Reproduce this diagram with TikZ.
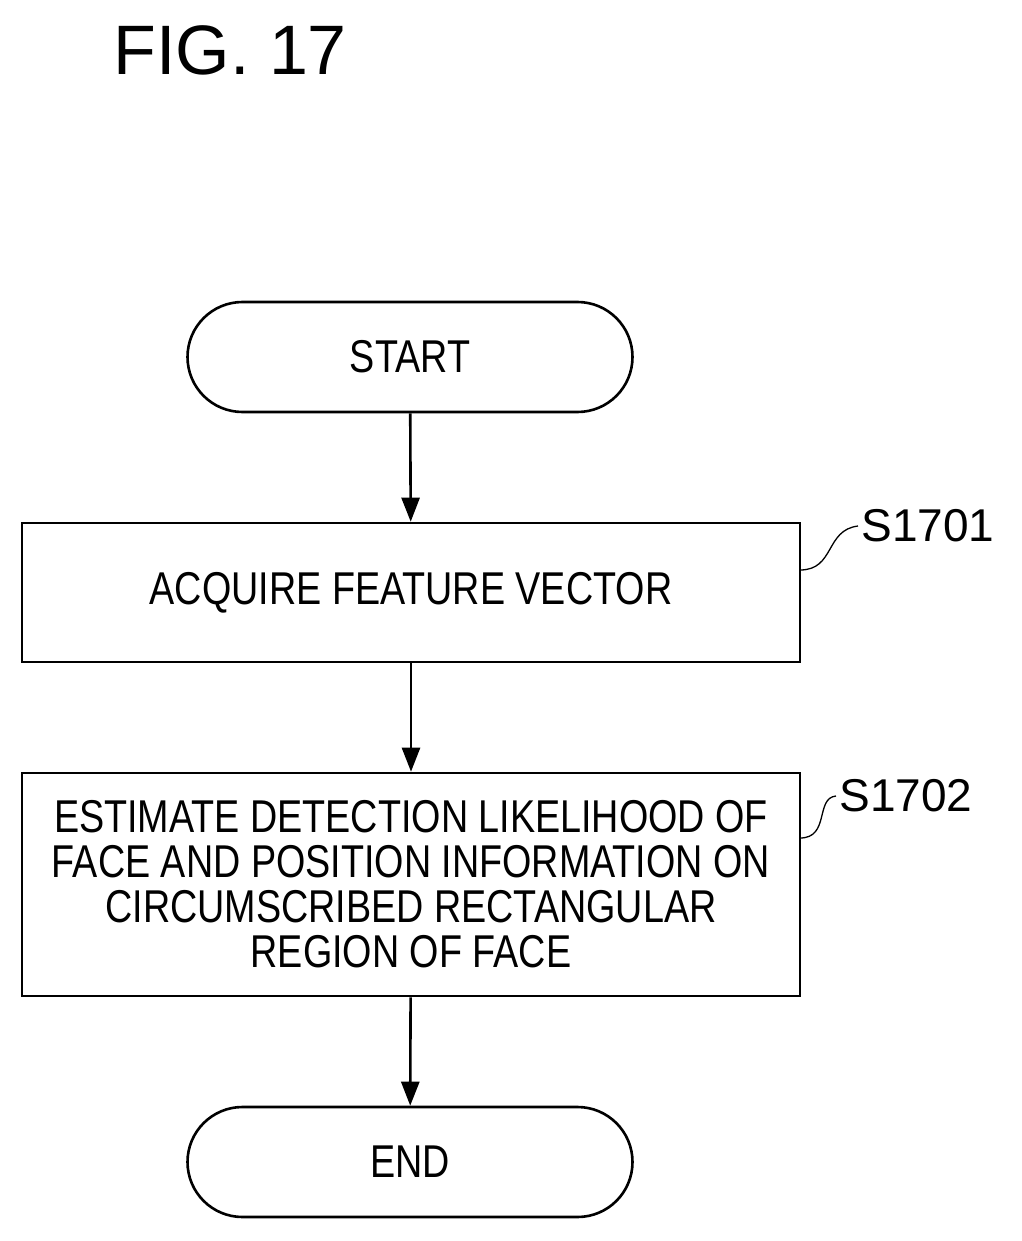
\documentclass[tikz,border=0pt]{standalone}
\usepackage{fontspec}
\setmainfont[FakeStretch=0.82]{Liberation Sans}
\newfontfamily\widefont[FakeStretch=1.0]{Liberation Sans}
\usetikzlibrary{arrows.meta}
\begin{document}
\begin{tikzpicture}[x=1pt,y=-1pt,
  lw/.style={line width=2.6pt},
  box/.style={lw,draw,minimum width=778pt,align=center,inner sep=0pt},
  term/.style={lw,draw,rounded corners=55pt,minimum width=445pt,minimum height=110pt,inner sep=0pt},
  txt/.style={font=\fontsize{46}{45}\selectfont},
  arr/.style={lw,-{Triangle[length=24pt,width=18pt]}},
  lbl/.style={font=\widefont\fontsize{46}{46}\selectfont,anchor=west}]
\useasboundingbox (0,0) rectangle (1021,1241);
\node[font=\widefont\fontsize{70}{70}\selectfont,anchor=west] (fig) at (110,50) {FIG. 17};
\node[term,txt] (start) at (410,357) {START};
\node[box,txt,minimum height=139pt] (s1) at (411,592.5) {ACQUIRE FEATURE VECTOR};
\node[box,txt,minimum height=223pt] (s2) at (411,884.5) {ESTIMATE DETECTION LIKELIHOOD OF\\FACE AND POSITION INFORMATION ON\\CIRCUMSCRIBED RECTANGULAR\\REGION OF FACE};
\node[term,txt] (end) at (410,1162) {END};
\draw[arr] (start) -- (s1);
\draw[arr] (s1) -- (s2);
\draw[arr] (s2) -- (end);
\node[lbl] (l1) at (858,526) {S1701};
\node[lbl] (l2) at (836,796) {S1702};
\coordinate (c1) at (800,570);
\coordinate (c2) at (800,838);
\draw[line width=1.3pt] (c1) .. controls (835,570) and (825,530) .. (l1.west);
\draw[line width=1.3pt] (c2) .. controls (830,838) and (815,798) .. (l2.west);
\end{tikzpicture}
\end{document}
